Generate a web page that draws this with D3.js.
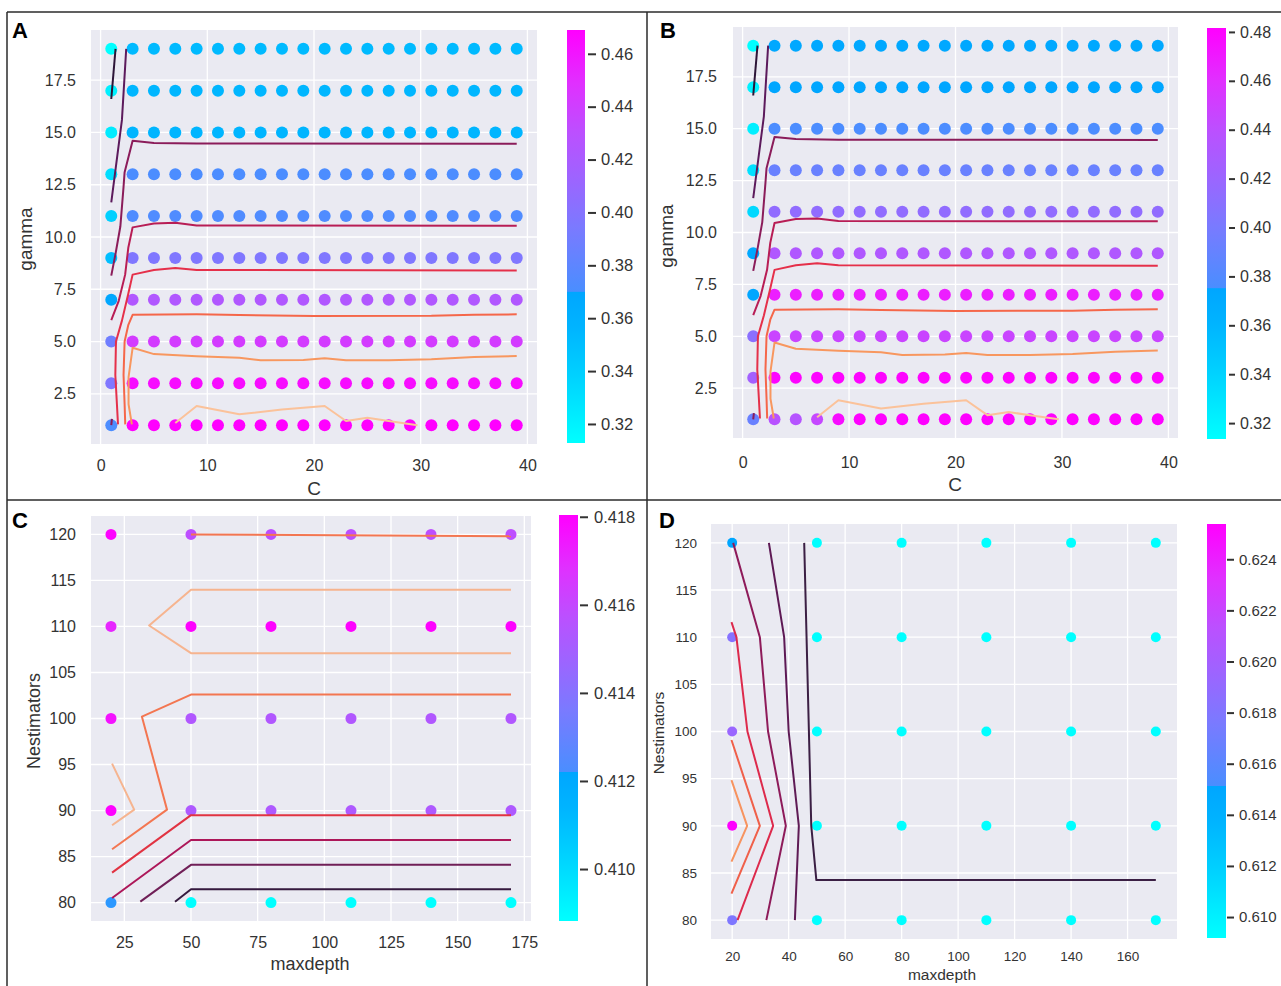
<!DOCTYPE html>
<html>
<head>
<meta charset="utf-8">
<script src="https://cdn.jsdelivr.net/npm/d3@7"></script>
<style>
  body { margin: 0; background: #fff; }
  svg { display: block; }
  text { font-family: "Liberation Sans", Arial, sans-serif; }
</style>
</head>
<body>
<svg width="1281" height="986"></svg>
<script>
const svg = d3.select('svg');

// ---------- data: panels A and B (C vs gamma) ----------
const cGrid = [1, 3, 5, 7, 9, 11, 13, 15, 17, 19, 21, 23, 25, 27, 29, 31, 33, 35, 37, 39];
const gammaGrid = [1, 3, 5, 7, 9, 11, 13, 15, 17, 19];

// one row per gamma (1 .. 19), one value per C
const scoreA = [
  [.371, .469, .469, .469, .469, .469, .469, .469, .469, .469, .469, .469, .469, .469, .469, .469, .469, .469, .469, .469],
  [.397, .464, .464, .464, .464, .464, .464, .464, .464, .464, .464, .464, .464, .464, .464, .464, .464, .464, .464, .464],
  [.389, .442, .442, .442, .442, .442, .442, .442, .442, .442, .442, .442, .442, .442, .442, .442, .442, .442, .442, .442],
  [.369, .424, .424, .424, .424, .424, .424, .424, .424, .424, .424, .424, .424, .424, .424, .424, .424, .424, .424, .424],
  [.350, .397, .397, .397, .397, .397, .397, .397, .397, .397, .397, .397, .397, .397, .397, .397, .397, .397, .397, .397],
  [.339, .373, .373, .373, .373, .373, .373, .373, .373, .373, .373, .373, .373, .373, .373, .373, .373, .373, .373, .373],
  [.331, .371, .371, .371, .371, .371, .371, .371, .371, .371, .371, .371, .371, .371, .371, .371, .371, .371, .371, .371],
  [.324, .356, .356, .356, .356, .356, .356, .356, .356, .356, .356, .356, .356, .356, .356, .356, .356, .356, .356, .356],
  [.321, .355, .355, .355, .355, .355, .355, .355, .355, .355, .355, .355, .355, .355, .355, .355, .355, .355, .355, .355],
  [.313, .353, .353, .353, .353, .353, .353, .353, .353, .353, .353, .353, .353, .353, .353, .353, .353, .353, .353, .353]
];
const scoreB = [
  [.392, .438, .436, .445, .476, .481, .481, .481, .481, .481, .481, .481, .481, .481, .481, .481, .481, .481, .481, .481],
  [.425, .480, .480, .480, .480, .480, .480, .480, .480, .480, .480, .480, .480, .480, .480, .480, .480, .480, .480, .480],
  [.411, .447, .447, .447, .447, .447, .447, .447, .447, .447, .447, .447, .447, .447, .447, .447, .447, .447, .447, .447],
  [.375, .468, .468, .468, .468, .468, .468, .468, .468, .468, .468, .468, .468, .468, .468, .468, .468, .468, .468, .468],
  [.373, .433, .433, .433, .433, .433, .433, .433, .433, .433, .433, .433, .433, .433, .433, .433, .433, .433, .433, .433],
  [.337, .414, .414, .414, .414, .414, .414, .414, .414, .414, .414, .414, .414, .414, .414, .414, .414, .414, .414, .414],
  [.332, .392, .392, .392, .392, .392, .392, .392, .392, .392, .392, .392, .392, .392, .392, .392, .392, .392, .392, .392],
  [.323, .376, .376, .376, .376, .376, .376, .376, .376, .376, .376, .376, .376, .376, .376, .376, .376, .376, .376, .376],
  [.322, .375, .375, .375, .375, .375, .375, .375, .375, .375, .375, .375, .375, .375, .375, .375, .375, .375, .375, .375],
  [.3135, .373, .373, .373, .373, .373, .373, .373, .373, .373, .373, .373, .373, .373, .373, .373, .373, .373, .373, .373]
];

// contour lines of A and B (same in both), [C, gamma]
const contoursAB = [
  { level: 0, pts: [[1.0, 16.6], [1.4, 19.0]] },
  { level: 1, pts: [[1.0, 11.66], [2.0, 15.6], [2.4, 19.0]] },
  { level: 2, pts: [[1.0, 8.15], [1.4, 9.2], [1.85, 10.5], [2.15, 12.4], [2.25, 13.1], [3.0, 14.6], [5, 14.5], [9, 14.47], [39, 14.46]] },
  { level: 2, pts: [[1.0, 1.0], [1.06, 1.3]] },
  { level: 3, pts: [[1.0, 6.02], [1.7, 6.95], [2.3, 8.2], [2.6, 9.5], [3.0, 10.46], [5, 10.65], [7, 10.68], [9, 10.55], [39, 10.54]] },
  { level: 4, pts: [[1.63, 1.04], [1.53, 2.0], [1.38, 3.4], [1.44, 5.0], [2.0, 6.0], [2.6, 7.3], [3.0, 8.2], [5, 8.42], [7, 8.52], [9, 8.42], [39, 8.4]] },
  { level: 5, pts: [[2.31, 1.04], [2.25, 2.0], [2.15, 3.4], [2.25, 5.0], [2.6, 5.8], [3.0, 6.28], [9, 6.3], [13, 6.27], [20, 6.22], [31, 6.23], [35, 6.28], [39, 6.3]] },
  { level: 6, pts: [[2.93, 1.04], [2.62, 2.0], [2.62, 3.3], [3.0, 4.7], [5, 4.4], [9, 4.3], [13, 4.23], [15, 4.1], [19, 4.12], [21, 4.2], [23, 4.1], [27, 4.1], [31, 4.15], [35, 4.26], [39, 4.31]] },
  { level: 7, pts: [[7, 1.1], [9, 1.92], [13, 1.52], [17, 1.75], [21, 1.92], [23, 1.2], [25, 1.35], [27, 1.2], [29.7, 1.0]] }
];

// ---------- data: panels C and D (maxdepth vs Nestimators) ----------
const depthGrid = [20, 50, 80, 110, 140, 170];
const nestGrid = [80, 90, 100, 110, 120];

const scoreC = [
  [.4122, .4088, .4088, .4088, .4088, .4088],
  [.4180, .4153, .4153, .4153, .4153, .4153],
  [.4176, .4154, .4154, .4154, .4154, .4154],
  [.4171, .4180, .4180, .4180, .4180, .4180],
  [.4180, .4158, .4158, .4158, .4158, .4158]
];
const scoreD = [
  [.6179, .6092, .6092, .6092, .6092, .6092],
  [.6254, .6092, .6092, .6092, .6092, .6092],
  [.6194, .6092, .6092, .6092, .6092, .6092],
  [.6183, .6092, .6092, .6092, .6092, .6092],
  [.6151, .6092, .6092, .6092, .6092, .6092]
];

const contoursC = [
  { level: 0, pts: [[44, 80.1], [50, 81.45], [170, 81.45]] },
  { level: 1, pts: [[31, 80.1], [50, 84.1], [170, 84.1]] },
  { level: 2, pts: [[20.4, 80.5], [50, 86.8], [170, 86.8]] },
  { level: 3, pts: [[20.4, 83.25], [50, 89.5], [170, 89.5]] },
  { level: 4, pts: [[20.4, 85.8], [41, 90.1], [31.6, 100.2], [50, 102.6], [170, 102.6]] },
  { level: 4, pts: [[50, 120.0], [170, 119.8]] },
  { level: 5, pts: [[170, 114], [50, 114], [34.3, 110.1], [50, 107.1], [170, 107.1]] },
  { level: 5, pts: [[20.4, 95.1], [28.7, 90.1], [20.4, 88.4]] }
];
const contoursD = [
  { level: 0, pts: [[45.5, 120], [48, 90], [49.8, 84.25], [170, 84.25]] },
  { level: 1, pts: [[33, 120], [38.4, 110], [40, 100], [43.6, 90], [42.2, 80]] },
  { level: 2, pts: [[20.35, 120], [29.8, 110], [32.7, 100], [39, 90], [32.1, 80]] },
  { level: 3, pts: [[19.75, 111.6], [21.5, 110], [25.4, 100], [34.5, 90], [21.9, 80]] },
  { level: 4, pts: [[19.75, 99.1], [29.8, 90], [19.75, 82.8]] },
  { level: 5, pts: [[19.75, 94.85], [25.3, 90], [19.75, 86.2]] }
];

// colour bar ranges and ticks
const rangeA = [0.3128, 0.469], cbTicksA = [0.32, 0.34, 0.36, 0.38, 0.40, 0.42, 0.44, 0.46];
const rangeB = [0.3135, 0.4816], cbTicksB = [0.32, 0.34, 0.36, 0.38, 0.40, 0.42, 0.44, 0.46, 0.48];
const rangeC = [0.40882, 0.41804], cbTicksC = [0.410, 0.412, 0.414, 0.416, 0.418];
const rangeD = [0.60918, 0.62538], cbTicksD = [0.610, 0.612, 0.614, 0.616, 0.618, 0.620, 0.622, 0.624];

// axis ticks
const xTicksAB = [0, 10, 20, 30, 40], yTicksAB = [2.5, 5, 7.5, 10, 12.5, 15, 17.5];
const xTicksC = [25, 50, 75, 100, 125, 150, 175], yTicksCD = [80, 85, 90, 95, 100, 105, 110, 115, 120];
const xTicksD = [20, 40, 60, 80, 100, 120, 140, 160];

// ---------- styles ----------
const cmapT = [0, 0.16, 0.28, 0.366, 0.367, 0.52, 0.63, 0.75, 0.87, 1];
const cmapC = ['#00ffff', '#00d2ff', '#00b4ff', '#00a6ff', '#4a8eff', '#7a7aff', '#9a66ff', '#bb50ff', '#e030ff', '#ff00ff'];
const cmap = d3.scaleLinear().domain(cmapT).range(cmapC).interpolate(d3.interpolateRgb).clamp(true);

const linesAB = ['#2d1538', '#5c1a5c', '#8b1c5a', '#b81d55', '#e5304a', '#f5674a', '#f8975f', '#fbc29a'];
const linesC = ['#35193e', '#701f57', '#ad1759', '#e13342', '#f37651', '#f6b48f'];
const linesD = ['#3b1f44', '#5e1a55', '#8e1b5a', '#dd2a4c', '#f0604a', '#f7935f'];
const textCol = '#333';

const grad = svg.append('defs').append('linearGradient')
  .attr('id', 'cool').attr('x1', 0).attr('y1', 1).attr('x2', 0).attr('y2', 0);
grad.selectAll('stop').data(cmapT).enter().append('stop')
  .attr('offset', d => d).attr('stop-color', (d, i) => cmapC[i]);

function panel(cfg) {
  const g = svg.append('g');
  const [px0, px1, py0, py1] = cfg.plot;
  const x = d3.scaleLinear().domain(cfg.xDom).range([px0, px1]);
  const y = d3.scaleLinear().domain(cfg.yDom).range([py1, py0]);

  g.append('rect').attr('x', px0).attr('y', py0)
    .attr('width', px1 - px0).attr('height', py1 - py0).attr('fill', '#eaeaf2');
  g.selectAll('line.gx').data(cfg.xTicks).enter().append('line').attr('class', 'gx')
    .attr('x1', d => x(d)).attr('x2', d => x(d)).attr('y1', py0).attr('y2', py1)
    .attr('stroke', '#fff').attr('stroke-width', 1.3);
  g.selectAll('line.gy').data(cfg.yTicks).enter().append('line').attr('class', 'gy')
    .attr('y1', d => y(d)).attr('y2', d => y(d)).attr('x1', px0).attr('x2', px1)
    .attr('stroke', '#fff').attr('stroke-width', 1.3);

  // scatter
  const norm = d3.scaleLinear().domain(cfg.vRange).range([0, 1]);
  const pts = [];
  cfg.yVals.forEach((yv, i) => cfg.xVals.forEach((xv, j) => pts.push({ x: xv, y: yv, v: cfg.scores[i][j] })));
  g.selectAll('circle').data(pts).enter().append('circle')
    .attr('cx', d => x(d.x)).attr('cy', d => y(d.y)).attr('r', cfg.r)
    .attr('fill', d => cmap(norm(d.v)));

  // contour lines
  const line = d3.line().x(d => x(d[0])).y(d => y(d[1]));
  g.selectAll('path.ct').data(cfg.contours).enter().append('path').attr('class', 'ct')
    .attr('d', d => line(d.pts)).attr('fill', 'none')
    .attr('stroke', d => cfg.lineColors[d.level]).attr('stroke-width', 2)
    .attr('stroke-linejoin', 'round');

  // axes
  const xa = g.append('g').attr('transform', `translate(0,${py1})`)
    .call(d3.axisBottom(x).tickValues(cfg.xTicks).tickSize(0).tickPadding(cfg.xPad).tickFormat(cfg.xFmt));
  const ya = g.append('g').attr('transform', `translate(${px0},0)`)
    .call(d3.axisLeft(y).tickValues(cfg.yTicks).tickSize(0).tickPadding(cfg.yPad).tickFormat(cfg.yFmt));
  [xa, ya].forEach(a => {
    a.select('.domain').remove();
    a.attr('font-size', cfg.tickFont).attr('font-family', null);
    a.selectAll('text').attr('fill', textCol);
  });

  // colour bar
  const [cx0, cx1, cy0, cy1] = cfg.cbar;
  g.append('rect').attr('x', cx0).attr('y', cy0)
    .attr('width', cx1 - cx0).attr('height', cy1 - cy0).attr('fill', 'url(#cool)');
  const cb = d3.scaleLinear().domain(cfg.vRange).range([cy1, cy0]);
  const ca = g.append('g').attr('transform', `translate(${cfg.cbAxisX},0)`)
    .call(d3.axisRight(cb).tickValues(cfg.cbTicks).tickSize(cfg.cbTick).tickPadding(cfg.cbPad)
      .tickFormat(d3.format(cfg.cbFmt)));
  ca.select('.domain').remove();
  ca.attr('font-size', cfg.cbFont).attr('font-family', null);
  ca.selectAll('line').attr('stroke', textCol).attr('stroke-width', 2);
  ca.selectAll('text').attr('fill', textCol);

  // labels
  g.append('text').attr('x', cfg.xLabel[1]).attr('y', cfg.xLabel[2])
    .attr('text-anchor', 'middle').attr('font-size', cfg.labelFont).attr('fill', textCol)
    .text(cfg.xLabel[0]);
  g.append('text').attr('transform', `translate(${cfg.yLabel[1]},${cfg.yLabel[2]}) rotate(-90)`)
    .attr('text-anchor', 'middle').attr('font-size', cfg.labelFont).attr('fill', textCol)
    .text(cfg.yLabel[0]);
  g.append('text').attr('x', cfg.letter[1]).attr('y', cfg.letter[2])
    .attr('font-size', 22).attr('font-weight', 'bold').attr('fill', '#000')
    .text(cfg.letter[0]);
}

const f1 = d3.format('.1f'), fi = d3.format('d');

panel({
  plot: [91, 537, 30, 444], xDom: [-0.9, 40.9], yDom: [0.1, 19.9],
  xVals: cGrid, yVals: gammaGrid, scores: scoreA, vRange: rangeA,
  contours: contoursAB, lineColors: linesAB, r: 6,
  xTicks: xTicksAB, yTicks: yTicksAB, xFmt: fi, yFmt: f1,
  tickFont: 16, xPad: 16, yPad: 15,
  cbar: [567, 585, 30, 443], cbTicks: cbTicksA, cbFmt: '.2f',
  cbAxisX: 588, cbTick: 8, cbPad: 5, cbFont: 16.5,
  labelFont: 19, xLabel: ['C', 314, 495], yLabel: ['gamma', 32, 239], letter: ['A', 12, 38]
});
panel({
  plot: [733, 1178, 27, 438], xDom: [-0.9, 40.9], yDom: [0.1, 19.9],
  xVals: cGrid, yVals: gammaGrid, scores: scoreB, vRange: rangeB,
  contours: contoursAB, lineColors: linesAB, r: 6,
  xTicks: xTicksAB, yTicks: yTicksAB, xFmt: fi, yFmt: f1,
  tickFont: 16, xPad: 19, yPad: 16,
  cbar: [1207, 1226, 28, 439], cbTicks: cbTicksB, cbFmt: '.2f',
  cbAxisX: 1229, cbTick: 6, cbPad: 5, cbFont: 16,
  labelFont: 19, xLabel: ['C', 955, 491], yLabel: ['gamma', 673, 236], letter: ['B', 660, 38]
});
panel({
  plot: [91, 531, 516, 921], xDom: [12.5, 177.5], yDom: [78, 122],
  xVals: depthGrid, yVals: nestGrid, scores: scoreC, vRange: rangeC,
  contours: contoursC, lineColors: linesC, r: 5.5,
  xTicks: xTicksC, yTicks: yTicksCD, xFmt: fi, yFmt: fi,
  tickFont: 16, xPad: 15.5, yPad: 15,
  cbar: [559, 578, 515, 921], cbTicks: cbTicksC, cbFmt: '.3f',
  cbAxisX: 580, cbTick: 8, cbPad: 6, cbFont: 16.5,
  labelFont: 18, xLabel: ['maxdepth', 310, 970], yLabel: ['Nestimators', 40, 721], letter: ['C', 12, 528]
});
panel({
  plot: [711, 1177, 524, 939], xDom: [12.5, 177.5], yDom: [78, 122],
  xVals: depthGrid, yVals: nestGrid, scores: scoreD, vRange: rangeD,
  contours: contoursD, lineColors: linesD, r: 5,
  xTicks: xTicksD, yTicks: yTicksCD, xFmt: fi, yFmt: fi,
  tickFont: 13.5, xPad: 12.7, yPad: 14,
  cbar: [1207, 1226, 524, 938], cbTicks: cbTicksD, cbFmt: '.3f',
  cbAxisX: 1227, cbTick: 7, cbPad: 5, cbFont: 15,
  labelFont: 15.5, xLabel: ['maxdepth', 942, 980], yLabel: ['Nestimators', 664, 733], letter: ['D', 659, 528]
});

// panel frames
const frame = svg.append('g').attr('stroke', '#2b2b2b').attr('stroke-width', 1.5);
frame.append('line').attr('x1', 7).attr('x2', 1281).attr('y1', 12).attr('y2', 12);
frame.append('line').attr('x1', 7).attr('x2', 1281).attr('y1', 500).attr('y2', 500);
frame.append('line').attr('x1', 7).attr('x2', 7).attr('y1', 12).attr('y2', 986);
frame.append('line').attr('x1', 647).attr('x2', 647).attr('y1', 12).attr('y2', 986);
</script>
</body>
</html>
